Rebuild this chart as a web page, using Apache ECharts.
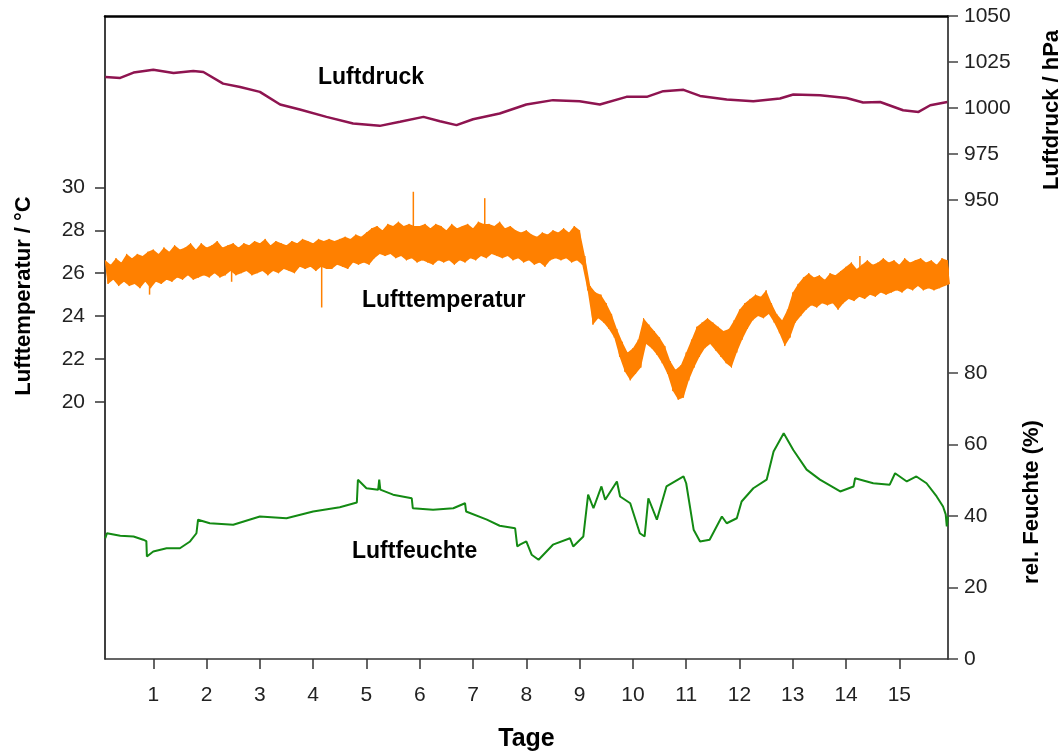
<!DOCTYPE html>
<html>
<head>
<meta charset="utf-8">
<script src="https://cdn.jsdelivr.net/npm/echarts@6/dist/echarts.min.js"></script>
<style>
  html, body { margin: 0; padding: 0; background: #fff; }
  #chart { width: 1064px; height: 752px; }
</style>
</head>
<body>
<div id="chart"></div>
<script>
// days on the x axis
const dayTicks = [1, 2, 3, 4, 5, 6, 7, 8, 9, 10, 11, 12, 13, 14, 15]
const tempTicks = [20, 22, 24, 26, 28, 30]
const pressTicks = [950, 975, 1000, 1025, 1050]
const humTicks = [0, 20, 40, 60, 80]

// Luftdruck (hPa)
const pressDays = [0.1, 0.38, 0.63, 1.0, 1.38, 1.75, 1.94, 2.31, 2.63, 3.0, 3.38, 3.75, 4.25, 4.75, 5.25, 5.63, 6.07, 6.38, 6.69, 7.0, 7.5, 8.0, 8.5, 9.0, 9.38, 9.88, 10.26, 10.57, 10.95, 11.26, 11.76, 12.26, 12.76, 13.01, 13.51, 14.01, 14.32, 14.64, 15.07, 15.36, 15.58, 15.9]
const pressVals = [1016.8, 1016.3, 1019.2, 1020.8, 1019.0, 1020.1, 1019.5, 1013.2, 1011.4, 1008.7, 1001.8, 999.1, 995.1, 991.5, 990.2, 992.4, 995.1, 992.7, 990.6, 993.8, 996.9, 1001.8, 1004.2, 1003.6, 1001.8, 1006.0, 1006.0, 1009.1, 1009.8, 1006.5, 1004.5, 1003.6, 1005.1, 1007.3, 1006.9, 1005.4, 1002.9, 1003.2, 998.7, 997.8, 1001.4, 1003.2]

// Lufttemperatur: upper / lower edge of the noisy band, one pair every 0.1 day from day 0.1
const tempStart = 0.1
const tempStep = 0.1
const tempHigh = [
  26.6, 26.4, 26.7, 26.5, 26.9, 26.7, 26.9, 26.8, 27.0, 27.1,
  26.9, 27.2, 27.0, 27.3, 27.1, 27.2, 27.4, 27.1, 27.4, 27.2,
  27.3, 27.5, 27.2, 27.3, 27.4, 27.2, 27.4, 27.3, 27.5, 27.4,
  27.6, 27.3, 27.5, 27.4, 27.3, 27.5, 27.4, 27.6, 27.5, 27.4,
  27.6, 27.5, 27.6, 27.5, 27.6, 27.7, 27.6, 27.8, 27.7, 27.9,
  28.1, 28.2, 28.0, 28.3, 28.2, 28.4, 28.2, 28.3, 28.2, 28.2,
  28.3, 28.1, 28.3, 28.2, 28.0, 28.3, 28.1, 28.2, 28.3, 28.1,
  28.4, 28.3, 28.3, 28.2, 28.4, 28.1, 28.2, 28.0, 27.9, 28.0,
  27.8, 27.7, 27.9, 27.8, 28.0, 27.9, 28.1, 27.9, 28.2, 28.0,
  26.8, 25.4, 25.1, 25.0, 24.6, 24.1, 23.4, 22.8, 22.3, 22.5,
  22.9, 23.9, 23.6, 23.3, 23.0, 22.6, 21.9, 21.5, 21.7, 22.3,
  22.9, 23.5, 23.7, 23.9, 23.7, 23.5, 23.3, 23.4, 23.8, 24.3,
  24.6, 24.8, 25.0, 24.9, 25.2, 24.6, 24.1, 23.8, 24.3, 25.1,
  25.5, 25.8, 26.0, 25.8, 25.9, 25.7, 26.0, 25.9, 26.1, 26.3,
  26.5, 26.2, 26.4, 26.6, 26.4, 26.5, 26.7, 26.5, 26.6, 26.4,
  26.7, 26.5, 26.6, 26.7, 26.5, 26.6, 26.4, 26.7, 26.6
]
const tempLow = [
  25.5, 25.7, 25.4, 25.6, 25.4, 25.5, 25.3, 25.6, 25.3, 25.6,
  25.5, 25.7, 25.6, 25.8, 25.7, 25.9, 25.7, 25.8, 25.9, 25.8,
  26.0, 25.8, 25.9, 26.1, 25.9, 26.0, 26.1, 25.9, 26.0, 26.1,
  25.9, 26.1, 26.0, 26.2, 26.1, 26.0, 26.3, 26.2, 26.3, 26.1,
  26.3, 26.2, 26.2, 26.4, 26.3, 26.2, 26.5, 26.4, 26.5, 26.4,
  26.7, 26.9, 26.8, 26.9, 26.7, 26.8, 26.6, 26.7, 26.5, 26.6,
  26.5, 26.4, 26.6, 26.5, 26.6, 26.4, 26.6, 26.5, 26.7, 26.6,
  26.8, 26.7, 26.9, 26.8, 26.7, 26.8, 26.6, 26.7, 26.5, 26.6,
  26.4, 26.5, 26.3, 26.6, 26.7, 26.6, 26.7, 26.5, 26.6, 26.4,
  25.2, 23.6, 23.9, 23.7, 23.4, 23.0, 22.1, 21.4, 21.0, 21.3,
  21.6, 22.7, 22.5, 22.2, 21.8, 21.3, 20.5, 20.1, 20.2, 21.0,
  21.6, 22.1, 22.5, 22.7, 22.4, 22.1, 21.8, 21.6, 22.3, 22.9,
  23.4, 23.8, 24.0, 23.9, 24.1, 23.7, 23.2, 22.6, 23.0, 23.7,
  24.0, 24.3, 24.5, 24.4, 24.6, 24.5, 24.6, 24.3, 24.6, 24.8,
  24.7, 24.9, 24.8, 25.0, 24.9, 25.1, 25.0, 25.1, 25.2, 25.1,
  25.3, 25.2, 25.4, 25.2, 25.3, 25.2, 25.3, 25.4, 25.5
]
// single thin outliers of the temperature: day, start inside the band, tip
const spikeDays = [0.93, 2.47, 4.16, 5.88, 7.22, 14.26]
const spikeFrom = [25.9, 26.6, 26.9, 27.4, 27.6, 25.7]
const spikeTo = [25.0, 25.6, 24.4, 29.8, 29.5, 26.8]

// rel. Feuchte (%)
const humDays = [0.1, 0.13, 0.38, 0.63, 0.81, 0.87, 0.88, 1.0, 1.25, 1.5, 1.69, 1.81, 1.84, 2.06, 2.5, 3.0, 3.5, 4.0, 4.5, 4.82, 4.84, 5.0, 5.22, 5.24, 5.26, 5.5, 5.85, 5.87, 6.25, 6.63, 6.85, 6.87, 7.26, 7.5, 7.79, 7.83, 7.88, 8.0, 8.1, 8.23, 8.5, 8.82, 8.88, 9.07, 9.16, 9.26, 9.41, 9.48, 9.7, 9.76, 9.95, 10.13, 10.22, 10.29, 10.45, 10.63, 10.95, 11.0, 11.14, 11.26, 11.44, 11.67, 11.76, 11.95, 12.04, 12.26, 12.51, 12.64, 12.83, 13.01, 13.26, 13.51, 13.89, 14.14, 14.17, 14.51, 14.82, 14.92, 15.14, 15.32, 15.51, 15.7, 15.82, 15.87, 15.89, 15.91]
const humVals = [33.8, 35.2, 34.5, 34.3, 33.4, 33.0, 28.7, 30.1, 31.0, 31.0, 32.9, 35.2, 39.0, 38.0, 37.6, 39.9, 39.4, 41.3, 42.5, 43.8, 50.2, 47.8, 47.4, 50.2, 47.4, 46.0, 45.0, 42.2, 41.8, 42.2, 43.6, 41.3, 39.0, 37.3, 36.6, 31.5, 32.0, 32.9, 29.2, 27.8, 32.0, 33.8, 31.5, 34.3, 46.0, 42.2, 48.3, 44.6, 49.7, 45.5, 43.6, 35.2, 34.3, 45.0, 39.0, 48.3, 51.1, 49.2, 36.2, 32.9, 33.4, 39.9, 38.0, 39.4, 44.1, 47.8, 50.2, 58.1, 63.2, 58.5, 53.0, 50.2, 46.9, 48.3, 50.6, 49.2, 48.8, 52.0, 49.7, 51.1, 49.2, 45.5, 42.7, 40.5, 37.1, 39.9]

const font = "'Liberation Sans', Arial, sans-serif"
const orange = '#ff8000'

const pressData = pressDays.map((d, i) => [d, pressVals[i]])
const humData = humDays.map((d, i) => [d, humVals[i]])
const spikeData = spikeDays.map((d, i) => [d, spikeFrom[i], spikeTo[i]])
const tempDays = tempHigh.map((h, i) => tempStart + i * tempStep)
const tempData = []
tempHigh.forEach((h, i) => {
  tempData.push([tempDays[i], h])
  tempData.push([tempDays[i] + tempStep / 2, tempLow[i]])
})

// filled band between the upper and lower edge, placed with the axis scales
function renderTempBand(params, api) {
  const points = []
  tempDays.forEach((d, i) => points.push(api.coord([d, tempHigh[i]])))
  for (let i = tempDays.length - 1; i >= 0; i--) {
    points.push(api.coord([tempDays[i] + tempStep / 2, tempLow[i]]))
  }
  return { type: 'polygon', shape: { points }, style: { fill: orange } }
}

function renderSpike(params, api) {
  const p1 = api.coord([api.value(0), api.value(1)])
  const p2 = api.coord([api.value(0), api.value(2)])
  return {
    type: 'line',
    shape: { x1: p1[0], y1: p1[1], x2: p2[0], y2: p2[1] },
    style: { stroke: orange, lineWidth: 1.5 }
  }
}

const tickLabel = { fontSize: 21, color: '#222', fontFamily: font, formatter: (v) => String(v) }

const option = {
  animation: false,
  grid: { left: 105, right: 116, top: 16, bottom: 93, outerBoundsMode: 'none', containLabel: false },
  xAxis: [
    {
      type: 'value',
      min: 0.094,
      max: 15.913,
      axisLine: { lineStyle: { color: '#333', width: 1.5 } },
      axisTick: { customValues: dayTicks, length: 10, lineStyle: { color: '#333', width: 1.5 } },
      axisLabel: { customValues: dayTicks, margin: 26, ...tickLabel },
      splitLine: { show: false },
      name: 'Tage',
      nameLocation: 'middle',
      nameGap: 68,
      nameTextStyle: { fontSize: 25, fontWeight: 'bold', color: '#000', fontFamily: font }
    },
    {
      type: 'value',
      position: 'top',
      min: 0.094,
      max: 15.913,
      axisLine: { lineStyle: { color: '#000', width: 2.5 } },
      axisTick: { show: false },
      axisLabel: { show: false },
      splitLine: { show: false }
    }
  ],
  yAxis: [
    {
      type: 'value',
      position: 'left',
      min: 8,
      max: 38,
      axisLine: { show: true, lineStyle: { color: '#000', width: 1.5 } },
      axisTick: { show: true, customValues: tempTicks, length: 10, lineStyle: { color: '#333', width: 1.5 } },
      axisLabel: { customValues: tempTicks, margin: 20, ...tickLabel },
      splitLine: { show: false }
    },
    {
      type: 'value',
      position: 'right',
      min: 700,
      max: 1050,
      axisLine: { show: true, lineStyle: { color: '#444', width: 1.5 } },
      axisTick: { show: true, customValues: pressTicks, length: 10, lineStyle: { color: '#444', width: 1.5 } },
      axisLabel: { customValues: pressTicks, margin: 16, ...tickLabel },
      splitLine: { show: false }
    },
    {
      type: 'value',
      position: 'right',
      min: 0,
      max: 180,
      axisLine: { show: true, lineStyle: { color: '#444', width: 1.5 } },
      axisTick: { show: true, customValues: humTicks, length: 10, lineStyle: { color: '#444', width: 1.5 } },
      axisLabel: { customValues: humTicks, margin: 16, ...tickLabel },
      splitLine: { show: false }
    }
  ],
  series: [
    {
      name: 'Luftdruck',
      type: 'line',
      yAxisIndex: 1,
      data: pressData,
      showSymbol: false,
      lineStyle: { color: '#8e1450', width: 2.5 }
    },
    {
      name: 'Lufttemperatur band',
      type: 'custom',
      yAxisIndex: 0,
      data: [[tempDays[0], tempHigh[0]]],
      renderItem: renderTempBand,
      silent: true
    },
    {
      name: 'Lufttemperatur',
      type: 'line',
      yAxisIndex: 0,
      data: tempData,
      showSymbol: false,
      lineStyle: { color: orange, width: 1 }
    },
    {
      name: 'Lufttemperatur spikes',
      type: 'custom',
      yAxisIndex: 0,
      data: spikeData,
      encode: { x: 0, y: [1, 2] },
      renderItem: renderSpike,
      silent: true
    },
    {
      name: 'Luftfeuchte',
      type: 'line',
      yAxisIndex: 2,
      data: humData,
      showSymbol: false,
      lineStyle: { color: '#138a13', width: 2 }
    }
  ],
  graphic: [
    {
      type: 'text', x: 24, y: 296, rotation: Math.PI / 2,
      style: { text: 'Lufttemperatur / °C', font: 'bold 22px ' + font, fill: '#000', align: 'center', verticalAlign: 'middle' }
    },
    {
      type: 'text', x: 1052, y: 110, rotation: Math.PI / 2,
      style: { text: 'Luftdruck / hPa', font: 'bold 22px ' + font, fill: '#000', align: 'center', verticalAlign: 'middle' }
    },
    {
      type: 'text', x: 1032, y: 502, rotation: Math.PI / 2,
      style: { text: 'rel. Feuchte (%)', font: 'bold 22px ' + font, fill: '#000', align: 'center', verticalAlign: 'middle' }
    },
    {
      type: 'text', x: 318, y: 78,
      style: { text: 'Luftdruck', font: 'bold 23px ' + font, fill: '#000', align: 'left', verticalAlign: 'middle' }
    },
    {
      type: 'text', x: 362, y: 301,
      style: { text: 'Lufttemperatur', font: 'bold 23px ' + font, fill: '#000', align: 'left', verticalAlign: 'middle' }
    },
    {
      type: 'text', x: 352, y: 552,
      style: { text: 'Luftfeuchte', font: 'bold 23px ' + font, fill: '#000', align: 'left', verticalAlign: 'middle' }
    }
  ]
}

const chart = echarts.init(document.getElementById('chart'))
chart.setOption(option)
</script>
</body>
</html>
